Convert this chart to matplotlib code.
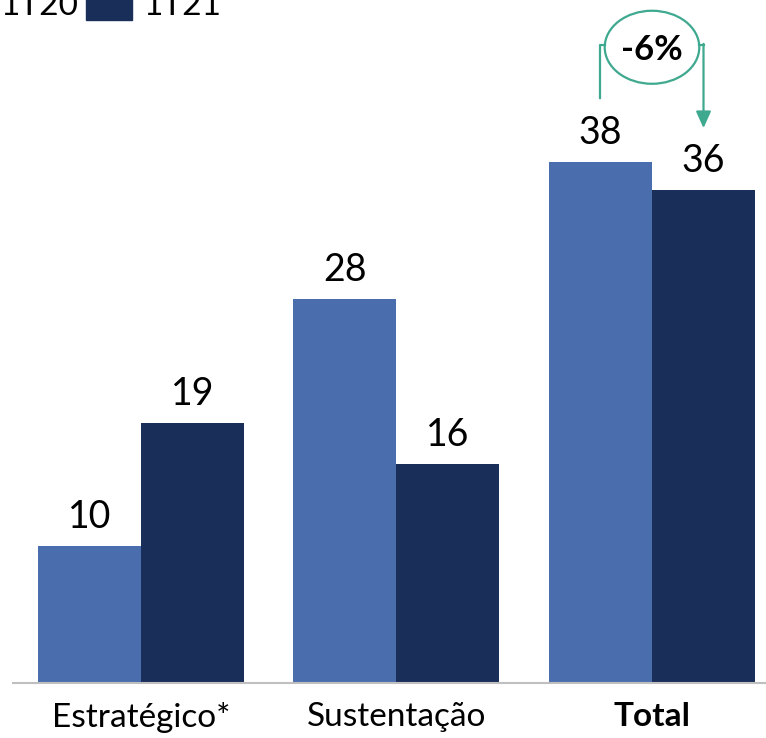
import matplotlib.pyplot as plt
from matplotlib.patches import Ellipse, Rectangle
import numpy as np

CATEGORIES = ["Estratégico*", "Sustentação", "Total"]
SERIES = ["1T20", "1T21"]
VALUES_1T20 = [10, 28, 38]
VALUES_1T21 = [19, 16, 36]
CHANGE_LABEL = "-6%"

LIGHT = "#4A6DAE"
DARK = "#1A2E5A"
TEAL = "#3FA98F"

plt.rcParams['font.family'] = ['Lato', 'DejaVu Sans']

W, H = 766, 738
fig = plt.figure(figsize=(W / 100, H / 100), dpi=100)
ax = fig.add_axes([13 / W, (H - 683) / H, 1 - 13 / W, 683 / H])

x = np.arange(len(CATEGORIES))
bw = 0.403
b1 = ax.bar(x - bw / 2, VALUES_1T20, bw, color=LIGHT)
b2 = ax.bar(x + bw / 2, VALUES_1T21, bw, color=DARK)

for bars, vals in ((b1, VALUES_1T20), (b2, VALUES_1T21)):
    for b, v in zip(bars, vals):
        ax.annotate(str(v), (b.get_x() + b.get_width() / 2, v), xytext=(0, 8),
                    textcoords="offset points", ha="center", va="bottom",
                    fontsize=27, color="black")

ax.set_xlim(-0.5, 2.446)
ax.set_ylim(0, 49.85)
ax.set_xticks(x)
ax.set_xticklabels(CATEGORIES, fontsize=24)
ax.get_xticklabels()[2].set_fontweight("bold")
ax.tick_params(axis="x", length=0, pad=14)
ax.set_yticks([])
for s in ("top", "right", "left"):
    ax.spines[s].set_visible(False)
ax.spines["bottom"].set_color("#BFBFBF")
ax.spines["bottom"].set_linewidth(1.5)

# change annotation on Total
cx = x[2]
ell_w, ell_h, ell_y = 0.37, 5.33, 46.4
ax.add_patch(Ellipse((cx, ell_y), ell_w, ell_h, fill=False, edgecolor=TEAL, lw=1.6,
                     clip_on=False))
ax.text(cx, ell_y - 0.2, CHANGE_LABEL, ha="center", va="center", fontsize=25,
        fontweight="bold", color="black")
yb = 46.6
ax.plot([cx - bw / 2, cx - bw / 2, cx - ell_w / 2], [42.7, yb, yb], color=TEAL, lw=1.6,
        clip_on=False)
ax.plot([cx + ell_w / 2, cx + bw / 2], [yb, yb], color=TEAL, lw=1.6, clip_on=False)
ax.annotate("", xy=(cx + bw / 2, 40.5), xytext=(cx + bw / 2, yb + 0.05),
            arrowprops=dict(arrowstyle="-|>,head_length=1.0,head_width=0.45",
                            color=TEAL, lw=1.6, shrinkA=0, shrinkB=0))

# legend, partly cut off at top-left as in the source
fig.patches.append(Rectangle((-57 / W, (H - 20) / H), 46 / W, 22 / H, color=LIGHT,
                             transform=fig.transFigure, figure=fig))
fig.patches.append(Rectangle((86 / W, (H - 20) / H), 46 / W, 22 / H, color=DARK,
                             transform=fig.transFigure, figure=fig))
fig.text(0 / W, (H - 15) / H, SERIES[0], fontsize=24, va="baseline", ha="left")
fig.text(143 / W, (H - 15) / H, SERIES[1], fontsize=24, va="baseline", ha="left")

fig.savefig("out.png", dpi=100)
